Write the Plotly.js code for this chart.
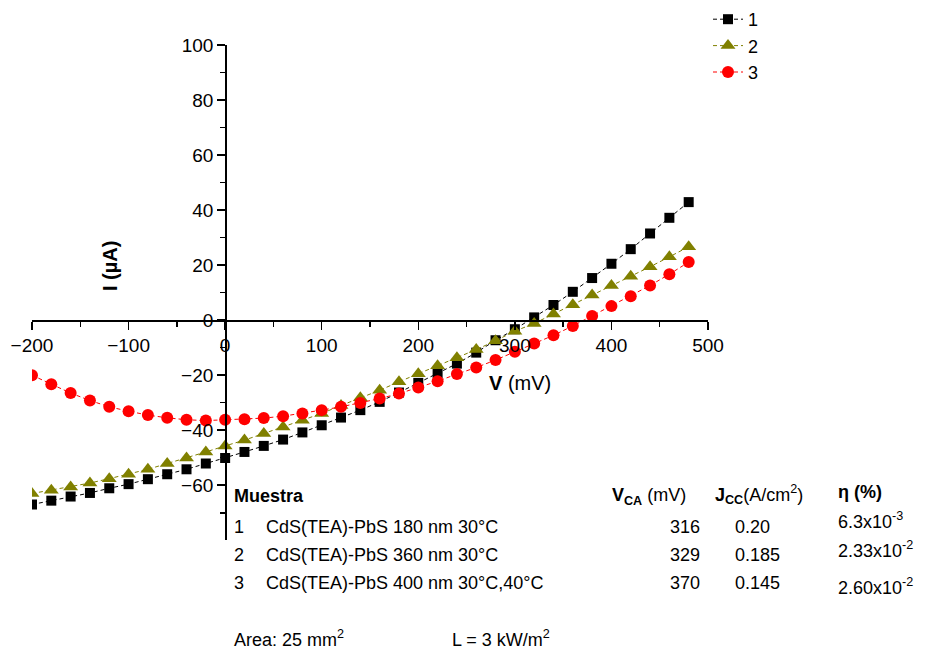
<!DOCTYPE html>
<html>
<head>
<meta charset="utf-8">
<script src="https://cdn.plot.ly/plotly-3.0.1.min.js"></script>
<style>html,body{margin:0;padding:0;background:#fff;}#chart{width:932px;height:654px;}</style>
</head>
<body>
<div id="chart"></div>
<script>
// Voltage (mV)
const voltage = [-200,-180,-160,-140,-120,-100,-80,-60,-40,-20,0,20,40,60,80,100,120,140,160,180,200,220,240,260,280,300,320,340,360,380,400,420,440,460,480];
// Current (µA) for each sample
const current1 = [-67,-65.6,-64.1,-62.8,-61.1,-59.6,-57.8,-56,-54.2,-52.1,-50.1,-47.9,-45.7,-43.4,-40.8,-38.2,-35.4,-32.7,-29.7,-26.3,-22.8,-19.3,-15.8,-11.8,-7.3,-3.3,1.0,5.5,10.3,15.3,20.5,25.8,31.5,37.2,42.9];
const current2 = [-63,-61.8,-60.6,-59.2,-57.6,-56,-54.2,-52.1,-50.1,-47.9,-45.7,-43.6,-41.2,-38.8,-36.4,-33.9,-31,-28.2,-25.5,-22.4,-19.5,-16.6,-13.7,-10.7,-7.5,-4.0,-1.2,2.2,5.6,9.1,12.6,16,19.4,23,26.7];
const current3 = [-20,-23.3,-26.5,-29.2,-31.5,-33.1,-34.5,-35.5,-36.2,-36.5,-36.2,-36,-35.6,-34.9,-33.9,-32.7,-31.5,-30.1,-28.5,-26.7,-24.5,-22.2,-19.6,-17.2,-14.5,-11.5,-8.5,-5.5,-2.1,1.5,5.1,8.7,12.6,16.7,21.1];
const seriesNames = ["1","2","3"];

// Table contents
const tableHeader = ["<b>Muestra</b>", "<b>V</b><sub><b>CA</b></sub> (mV)", "<b>J</b><sub><b>CC</b></sub>(A/cm<sup>2</sup>)", "<b>η (%)</b>"];
const sampleIds = ["1","2","3"];
const sampleNames = ["CdS(TEA)-PbS 180 nm 30°C","CdS(TEA)-PbS 360 nm 30°C","CdS(TEA)-PbS 400 nm 30°C,40°C"];
const vca = ["316","329","370"];
const jcc = ["0.20","0.185","0.145"];
const eta = ["6.3x10<sup>-3</sup>","2.33x10<sup>-2</sup>","2.60x10<sup>-2</sup>"];
const footer = ["Area: 25 mm<sup>2</sup>", "L = 3 kW/m<sup>2</sup>"];

const W = 932, H = 654;
const M = {l:32, r:224, t:45, b:114, autoexpand: false};
const PW = W - M.l - M.r, PH = H - M.t - M.b;
const fx = px => (px - M.l) / PW;
const fy = py => (H - M.b - py) / PH;
const FONT = "Liberation Sans, Arial, Helvetica, sans-serif";

const dash = "4px,3px";
const traces = [
  {x: voltage, y: current1, name: seriesNames[0], mode: "lines+markers", legendgroup: "a",
   line: {color: "#000000", width: 1, dash: dash}, marker: {symbol: "square", size: 10, color: "#000000"}},
  {x: voltage, y: current2, name: seriesNames[1], mode: "lines+markers", legendgroup: "b",
   line: {color: "#808000", width: 1, dash: dash}, marker: {symbol: "triangle-up", size: 13, color: "#808000"}},
  {x: voltage, y: current3, name: seriesNames[2], mode: "lines+markers", legendgroup: "c",
   line: {color: "#ff0000", width: 1, dash: dash}, marker: {symbol: "circle", size: 12, color: "#ff0000"}}
];

const ann = [];
function txt(text, px, py, opts) {
  ann.push(Object.assign({text: text, xref: "paper", yref: "paper", x: fx(px), y: fy(py),
    showarrow: false, xanchor: "left", yanchor: "middle", font: {family: FONT, size: 18, color: "#000"}}, opts || {}));
}
// axis titles
txt("<b>I (µA)</b>", 110, 266, {xanchor: "center", textangle: -90, font: {family: FONT, size: 20, color: "#000"}});
txt("<b>V</b> (mV)", 487, 383, {font: {family: FONT, size: 20, color: "#000"}});
// table
txt(tableHeader[0], 232, 496);
txt(tableHeader[1], 610, 496);
txt(tableHeader[2], 713, 494);
txt(tableHeader[3], 836, 492);
const rowY = [527, 555, 583];
const etaY = [520, 549, 586];
for (let i = 0; i < 3; i++) {
  txt(sampleIds[i], 232, rowY[i]);
  txt(sampleNames[i], 264, rowY[i]);
  txt(vca[i], 702, rowY[i], {xanchor: "right"});
  txt(jcc[i], 733, rowY[i]);
  txt(eta[i], 836, etaY[i]);
}
txt(footer[0], 232, 638);
txt(footer[1], 450, 638);

const layout = {
  width: W, height: H,
  margin: M,
  paper_bgcolor: "#fff", plot_bgcolor: "rgba(0,0,0,0)",
  font: {family: FONT, size: 18, color: "#000"},
  showlegend: true,
  legend: {x: fx(708), y: fy(1), xanchor: "left", yanchor: "top", bgcolor: "rgba(0,0,0,0)",
           font: {family: FONT, size: 18}, tracegroupgap: 0, borderwidth: 0},
  xaxis: {range: [-200, 500], dtick: 100, tick0: 0, anchor: "free", position: 80/180,
          showline: true, linecolor: "#000", linewidth: 1.5, ticks: "outside", ticklen: 8, tickwidth: 1.5,
          tickcolor: "#000", showgrid: false, zeroline: false, tickfont: {family: FONT, size: 19},
          minor: {dtick: 50, tick0: 0, ticks: "outside", ticklen: 5, tickwidth: 1.5, tickcolor: "#000", showgrid: false}},
  yaxis: {range: [-79.9, 100], dtick: 20, tick0: 0, anchor: "free", position: 200/700,
          showline: true, linecolor: "#000", linewidth: 1.5, ticks: "outside", ticklen: 8, tickwidth: 1.5,
          tickcolor: "#000", showgrid: false, zeroline: false, tickfont: {family: FONT, size: 19},
          minor: {dtick: 10, tick0: 0, ticks: "outside", ticklen: 5, tickwidth: 1.5, tickcolor: "#000", showgrid: false}},
  annotations: ann
};
Plotly.newPlot("chart", traces, layout, {staticPlot: true, displayModeBar: false});
</script>
</body>
</html>
